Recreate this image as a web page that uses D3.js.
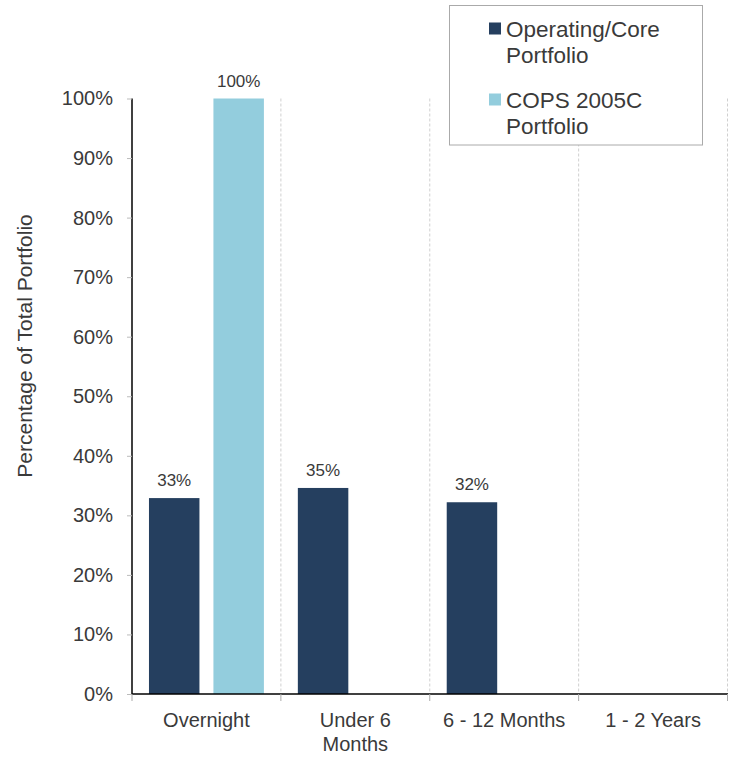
<!DOCTYPE html>
<html>
<head>
<meta charset="utf-8">
<script src="https://cdn.jsdelivr.net/npm/d3@7"></script>
<style>
  html, body { margin: 0; padding: 0; background: #fff; }
  svg { display: block; font-family: "Liberation Sans", Arial, sans-serif; }
</style>
</head>
<body>
<svg id="chart" width="748" height="759"></svg>
<script>
const categories = ["Overnight", "Under 6 Months", "6 - 12 Months", "1 - 2 Years"];
const seriesNames = ["Operating/Core Portfolio", "COPS 2005C Portfolio"];
const legendLines = [["Operating/Core", "Portfolio"], ["COPS 2005C", "Portfolio"]];
const operatingCore = [32.9, 34.6, 32.2, null];
const cops2005C = [100, null, null, null];
const yTicks = [0, 10, 20, 30, 40, 50, 60, 70, 80, 90, 100];
const colors = ["#253f5f", "#93cddd"];

(function () {
const series = [operatingCore, cops2005C];
const svg = d3.select("#chart");
const textColor = "#3a3a3a";

const pLeft = 132, pRight = 727.5, pTop = 98.5, pBottom = 694;

const x0 = d3.scaleBand().domain(categories).range([pLeft, pRight]).paddingInner(0).paddingOuter(0);
const bw = x0.bandwidth();
const x1 = d3.scaleBand().domain(d3.range(series.length))
  .range([bw * 0.114, bw * 0.886]).paddingInner(0.217).paddingOuter(0);
const y = d3.scaleLinear().domain([0, 100]).range([pBottom, pTop]);

// vertical dashed gridlines at category boundaries
const bounds = categories.map(c => x0(c) + bw);
svg.append("g").selectAll("line").data(bounds).join("line")
  .attr("x1", d => d).attr("x2", d => d)
  .attr("y1", y(100)).attr("y2", pBottom)
  .attr("stroke", "#d0d0d0").attr("stroke-width", 1)
  .attr("stroke-dasharray", "3,2");

// bars
const barG = svg.append("g");
series.forEach((vals, si) => {
  categories.forEach((c, ci) => {
    const v = vals[ci];
    if (v == null) return;
    barG.append("rect")
      .attr("x", x0(c) + x1(si))
      .attr("width", x1.bandwidth())
      .attr("y", y(v))
      .attr("height", pBottom - y(v))
      .attr("fill", colors[si]);
    barG.append("text")
      .attr("x", x0(c) + x1(si) + x1.bandwidth() / 2)
      .attr("y", y(v) - 12)
      .attr("text-anchor", "middle")
      .attr("font-size", 17)
      .attr("fill", textColor)
      .text(Math.round(v) + "%");
  });
});

// y axis
const yAxis = d3.axisLeft(y).tickValues(yTicks).tickFormat(d => d + "%").tickSize(5).tickPadding(14);
const yg = svg.append("g").attr("transform", `translate(${pLeft},0)`).call(yAxis);
yg.select(".domain").attr("stroke", "#000").attr("stroke-width", 1.5).attr("d", `M0,${pTop}V${pBottom}`);
yg.selectAll(".tick line").attr("stroke", "#bbb");
yg.selectAll(".tick text").attr("font-size", 20).attr("fill", textColor)
  .attr("font-family", "Liberation Sans, Arial, sans-serif");

// x axis
const xg = svg.append("g").attr("transform", `translate(0,${pBottom})`);
xg.append("line").attr("x1", pLeft).attr("x2", pRight + 0.5).attr("y1", 0).attr("y2", 0)
  .attr("stroke", "#000").attr("stroke-width", 1.5);
const tickXs = [pLeft].concat(bounds);
xg.selectAll("line.t").data(tickXs).join("line").attr("class", "t")
  .attr("x1", d => d).attr("x2", d => d).attr("y1", 0).attr("y2", 7)
  .attr("stroke", "#aaa");

function wrapWords(label, maxW, fontSize) {
  const words = label.split(" ");
  const lines = [];
  let cur = "";
  const ctx = document.createElement("canvas").getContext("2d");
  ctx.font = fontSize + "px 'Liberation Sans', Arial, sans-serif";
  words.forEach(w => {
    const t = cur ? cur + " " + w : w;
    if (ctx.measureText(t).width > maxW && cur) { lines.push(cur); cur = w; }
    else cur = t;
  });
  lines.push(cur);
  return lines;
}

categories.forEach(c => {
  const lines = wrapWords(c, 130, 20);
  const t = xg.append("text")
    .attr("x", x0(c) + bw / 2)
    .attr("y", 33)
    .attr("text-anchor", "middle")
    .attr("font-size", 20)
    .attr("fill", textColor);
  lines.forEach((ln, i) => {
    t.append("tspan").attr("x", x0(c) + bw / 2).attr("dy", i === 0 ? 0 : 24).text(ln);
  });
});

// y axis title
svg.append("text")
  .attr("transform", `translate(32,346) rotate(-90)`)
  .attr("text-anchor", "middle")
  .attr("font-size", 21)
  .attr("fill", textColor)
  .text("Percentage of Total Portfolio");

// legend
const lg = svg.append("g");
lg.append("rect").attr("x", 449.5).attr("y", 5.5).attr("width", 253).attr("height", 139.5)
  .attr("fill", "#fff").attr("stroke", "#aaa").attr("stroke-width", 1);
seriesNames.forEach((name, i) => {
  const by = 22.5 + i * 71;
  lg.append("rect").attr("x", 489).attr("y", by).attr("width", 12).attr("height", 12)
    .attr("fill", colors[i]);
  const t = lg.append("text").attr("x", 506).attr("y", by + 14)
    .attr("font-size", 22.5).attr("fill", textColor);
  legendLines[i].forEach((ln, j) => {
    t.append("tspan").attr("x", 506).attr("dy", j === 0 ? 0 : 26).text(ln);
  });
});
})();
</script>
</body>
</html>
